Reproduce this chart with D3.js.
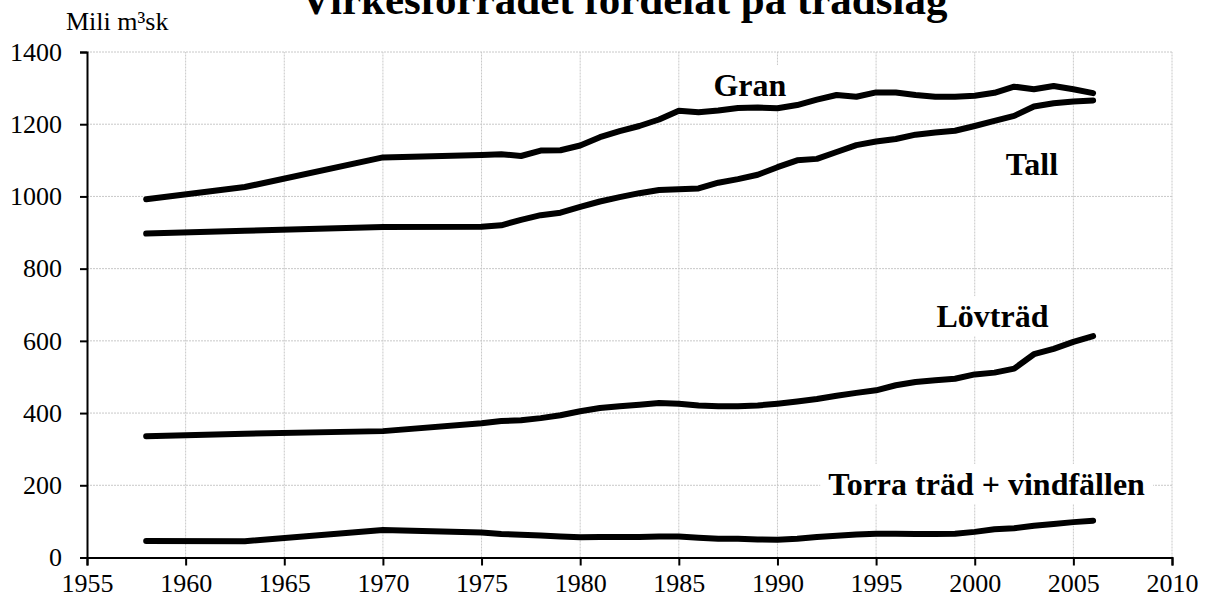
<!DOCTYPE html>
<html>
<head>
<meta charset="utf-8">
<script src="https://cdn.jsdelivr.net/npm/d3@7"></script>
<style>
    body { margin: 0; background: #fff; }
    svg { display: block; }
    svg text { font-family: "Liberation Serif", "Times New Roman", serif; }
</style>
</head>
<body>
<svg id="chart" width="1209" height="612"></svg>
<script>
var years = [1958, 1963, 1970, 1975, 1976, 1977, 1978, 1979, 1980, 1981, 1982, 1983, 1984, 1985,
    1986, 1987, 1988, 1989, 1990, 1991, 1992, 1993, 1994, 1995, 1996, 1997, 1998, 1999, 2000,
    2001, 2002, 2003, 2004, 2005, 2006];
var gran = [992, 1026, 1108, 1115, 1117, 1112, 1127, 1128, 1141, 1164, 1181, 1195, 1213, 1237,
    1233, 1238, 1245, 1246, 1244, 1253, 1268, 1281, 1276, 1288, 1288, 1281, 1276, 1276, 1279,
    1287, 1304, 1297, 1306, 1297, 1286];
var tall = [897, 905, 915, 916, 920, 935, 948, 955, 971, 986, 998, 1009, 1018, 1020,
    1022, 1038, 1048, 1060, 1081, 1100, 1104, 1123, 1142, 1152, 1159, 1171, 1177, 1182, 1195,
    1209, 1223, 1249, 1258, 1263, 1266];
var lovtrad = [336, 343, 350, 372, 378, 380, 386, 394, 405, 414, 419, 423, 428, 426,
    421, 419, 419, 421, 426, 432, 439, 448, 456, 463, 477, 486, 491, 495, 507,
    512, 523, 563, 578, 597, 613];
var torra = [46, 45, 76, 69, 65, 63, 61, 58, 56, 57, 57, 57, 58, 58,
    55, 52, 52, 50, 49, 52, 57, 60, 64, 66, 66, 65, 65, 66, 71,
    78, 81, 88, 93, 98, 102];

var seriesNames = ["Gran", "Tall", "Lövträd", "Torra träd + vindfällen"];
var xTicks = [1955, 1960, 1965, 1970, 1975, 1980, 1985, 1990, 1995, 2000, 2005, 2010];
var yTicks = [0, 200, 400, 600, 800, 1000, 1200, 1400];

(function () {
    "use strict";
    var svg, x, y, line, grid, series, labelPos, lab, serif;

    serif = "'Liberation Serif', 'Times New Roman', serif";
    svg = d3.select("#chart");

    x = d3.scaleLinear().domain([1955, 2010]).range([87, 1172]);
    y = d3.scaleLinear().domain([0, 1400]).range([557.5, 52]);

    // dotted grid
    grid = svg.append("g")
        .attr("stroke", "#c8c8c8")
        .attr("stroke-width", 1)
        .attr("stroke-dasharray", "2,1");
    grid.selectAll("line.h")
        .data(yTicks.slice(1))
        .enter().append("line")
        .attr("x1", x(1955)).attr("x2", x(2010))
        .attr("y1", function (d) { return y(d); })
        .attr("y2", function (d) { return y(d); });
    grid.selectAll("line.v")
        .data(xTicks.slice(1))
        .enter().append("line")
        .attr("y1", y(0)).attr("y2", y(1400))
        .attr("x1", function (d) { return x(d); })
        .attr("x2", function (d) { return x(d); });

    // labels (year, value) at the text baseline; boxes hide the grid, not the lines
    labelPos = [[1988.6, 1278], [2002.9, 1060], [2000.9, 638], [2000.6, 173]];
    lab = svg.append("g");
    seriesNames.forEach(function (name, i) {
        var g = lab.append("g"), t, bb;
        t = g.append("text")
            .attr("x", x(labelPos[i][0]))
            .attr("y", y(labelPos[i][1]))
            .attr("text-anchor", "middle")
            .style("font-size", "32px")
            .style("font-weight", "bold")
            .text(name);
        bb = t.node().getBBox();
        g.insert("rect", "text")
            .attr("x", bb.x - 8).attr("y", bb.y - 2)
            .attr("width", bb.width + 16).attr("height", bb.height + 4)
            .attr("fill", "#fff");
    });

    // axes
    var yAxis = svg.append("g")
        .attr("transform", "translate(" + x(1955) + ",0)")
        .call(d3.axisLeft(y).tickValues(yTicks).tickSize(7).tickPadding(18).tickFormat(d3.format("d")));
    var xAxis = svg.append("g")
        .attr("transform", "translate(0," + y(0) + ")")
        .call(d3.axisBottom(x).tickValues(xTicks).tickSize(8).tickPadding(8).tickFormat(d3.format("d")));

    [yAxis, xAxis].forEach(function (a) {
        a.attr("font-family", serif).attr("font-size", 26);
        a.select(".domain").attr("stroke", "#000").attr("stroke-width", 2);
        a.selectAll(".tick line").attr("stroke", "#000").attr("stroke-width", 2);
        a.selectAll(".tick text")
            .attr("fill", "#000")
            .style("font-family", serif)
            .style("font-size", "26px");
    });

    // series lines
    series = [gran, tall, lovtrad, torra];
    line = d3.line()
        .x(function (d, i) { return x(years[i]); })
        .y(function (d) { return y(d); });

    svg.append("g").selectAll("path")
        .data(series)
        .enter().append("path")
        .attr("d", line)
        .attr("fill", "none")
        .attr("stroke", "#000")
        .attr("stroke-width", 6)
        .attr("stroke-linecap", "round")
        .attr("stroke-linejoin", "round");

    svg.append("text")
        .attr("x", 624).attr("y", 14)
        .attr("text-anchor", "middle")
        .style("font-size", "43px")
        .style("font-weight", "bold")
        .text("Virkesförrådet fördelat på trädslag");

    svg.append("text")
        .attr("x", 66).attr("y", 30)
        .style("font-size", "26px")
        .text("Mili m³sk");
})();
</script>
</body>
</html>
